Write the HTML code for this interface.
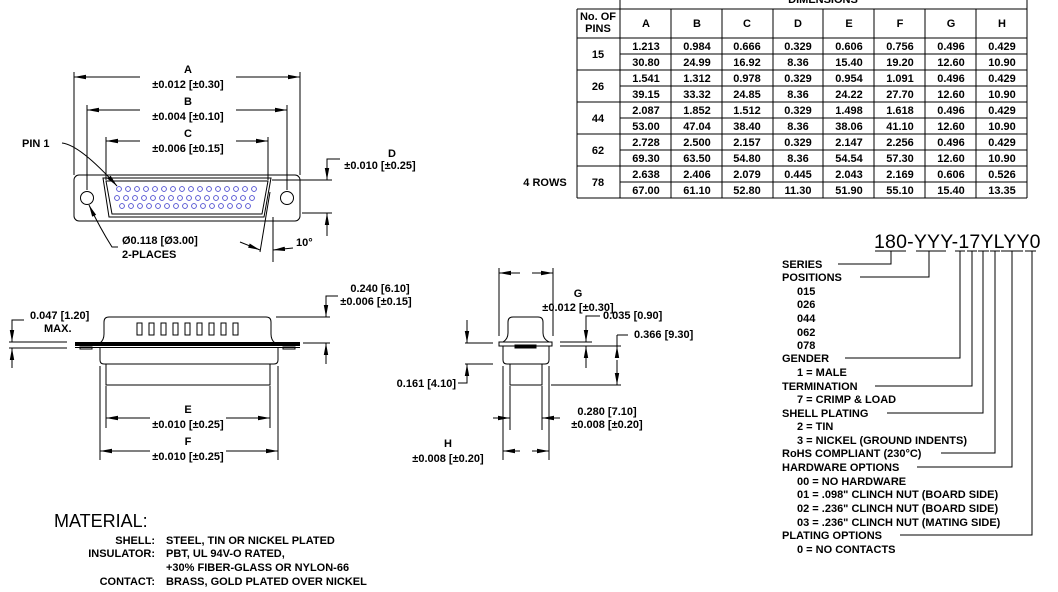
<!DOCTYPE html>
<html><head><meta charset="utf-8"><style>
html,body{margin:0;padding:0;background:#fff;}
svg{display:block;}
text{font-family:"Liberation Sans",Arial,sans-serif;font-weight:bold;font-size:11px;fill:#000;}
.c{text-anchor:middle;}
.r{text-anchor:end;}
.l{stroke:#000;stroke-width:1;fill:none;}
.pin{stroke:#4a4ad0;stroke-width:0.9;fill:none;}
</style></head><body>
<svg width="1058" height="592" viewBox="0 0 1058 592" xmlns="http://www.w3.org/2000/svg">
<defs>
<marker id="a" viewBox="0 0 12 6" refX="12" refY="3" markerWidth="12" markerHeight="6" markerUnits="userSpaceOnUse" orient="auto"><path d="M0,0.8 L12,3 L0,5.2 Z" fill="#000"/></marker>
</defs>

<!-- ===== TABLE ===== -->
<g class="l">
<line x1="620" y1="0" x2="620" y2="198"/>
<line x1="1027" y1="0" x2="1027" y2="198"/>
<line x1="577" y1="9" x2="1027" y2="9"/>
<line x1="577" y1="9" x2="577" y2="198"/>
<line x1="577" y1="38" x2="1027" y2="38"/>
<line x1="577" y1="198" x2="1027" y2="198"/>
<line x1="577" y1="70" x2="1027" y2="70"/>
<line x1="577" y1="102" x2="1027" y2="102"/>
<line x1="577" y1="134" x2="1027" y2="134"/>
<line x1="577" y1="166" x2="1027" y2="166"/>
<line x1="620" y1="54" x2="1027" y2="54"/>
<line x1="620" y1="86" x2="1027" y2="86"/>
<line x1="620" y1="118" x2="1027" y2="118"/>
<line x1="620" y1="150" x2="1027" y2="150"/>
<line x1="620" y1="182" x2="1027" y2="182"/>
<line x1="671" y1="9" x2="671" y2="198"/>
<line x1="722" y1="9" x2="722" y2="198"/>
<line x1="773" y1="9" x2="773" y2="198"/>
<line x1="823" y1="9" x2="823" y2="198"/>
<line x1="874" y1="9" x2="874" y2="198"/>
<line x1="925" y1="9" x2="925" y2="198"/>
<line x1="976" y1="9" x2="976" y2="198"/>
</g>
<text x="823" y="3" class="c">DIMENSIONS</text>
<text x="598" y="20" class="c">No. OF</text>
<text x="598" y="32" class="c">PINS</text>
<text x="646" y="27" class="c">A</text><text x="697" y="27" class="c">B</text><text x="747" y="27" class="c">C</text><text x="798" y="27" class="c">D</text><text x="849" y="27" class="c">E</text><text x="900" y="27" class="c">F</text><text x="951" y="27" class="c">G</text><text x="1002" y="27" class="c">H</text>
<text x="598" y="58" class="c">15</text>
<text x="598" y="90" class="c">26</text>
<text x="598" y="122" class="c">44</text>
<text x="598" y="154" class="c">62</text>
<text x="598" y="186" class="c">78</text>
<text x="545" y="186" class="c">4 ROWS</text>

<g>
<text x="646" y="50" class="c">1.213</text><text x="697" y="50" class="c">0.984</text><text x="747" y="50" class="c">0.666</text><text x="798" y="50" class="c">0.329</text><text x="849" y="50" class="c">0.606</text><text x="900" y="50" class="c">0.756</text><text x="951" y="50" class="c">0.496</text><text x="1002" y="50" class="c">0.429</text>
<text x="646" y="66" class="c">30.80</text><text x="697" y="66" class="c">24.99</text><text x="747" y="66" class="c">16.92</text><text x="798" y="66" class="c">8.36</text><text x="849" y="66" class="c">15.40</text><text x="900" y="66" class="c">19.20</text><text x="951" y="66" class="c">12.60</text><text x="1002" y="66" class="c">10.90</text>
<text x="646" y="82" class="c">1.541</text><text x="697" y="82" class="c">1.312</text><text x="747" y="82" class="c">0.978</text><text x="798" y="82" class="c">0.329</text><text x="849" y="82" class="c">0.954</text><text x="900" y="82" class="c">1.091</text><text x="951" y="82" class="c">0.496</text><text x="1002" y="82" class="c">0.429</text>
<text x="646" y="98" class="c">39.15</text><text x="697" y="98" class="c">33.32</text><text x="747" y="98" class="c">24.85</text><text x="798" y="98" class="c">8.36</text><text x="849" y="98" class="c">24.22</text><text x="900" y="98" class="c">27.70</text><text x="951" y="98" class="c">12.60</text><text x="1002" y="98" class="c">10.90</text>
<text x="646" y="114" class="c">2.087</text><text x="697" y="114" class="c">1.852</text><text x="747" y="114" class="c">1.512</text><text x="798" y="114" class="c">0.329</text><text x="849" y="114" class="c">1.498</text><text x="900" y="114" class="c">1.618</text><text x="951" y="114" class="c">0.496</text><text x="1002" y="114" class="c">0.429</text>
<text x="646" y="130" class="c">53.00</text><text x="697" y="130" class="c">47.04</text><text x="747" y="130" class="c">38.40</text><text x="798" y="130" class="c">8.36</text><text x="849" y="130" class="c">38.06</text><text x="900" y="130" class="c">41.10</text><text x="951" y="130" class="c">12.60</text><text x="1002" y="130" class="c">10.90</text>
<text x="646" y="146" class="c">2.728</text><text x="697" y="146" class="c">2.500</text><text x="747" y="146" class="c">2.157</text><text x="798" y="146" class="c">0.329</text><text x="849" y="146" class="c">2.147</text><text x="900" y="146" class="c">2.256</text><text x="951" y="146" class="c">0.496</text><text x="1002" y="146" class="c">0.429</text>
<text x="646" y="162" class="c">69.30</text><text x="697" y="162" class="c">63.50</text><text x="747" y="162" class="c">54.80</text><text x="798" y="162" class="c">8.36</text><text x="849" y="162" class="c">54.54</text><text x="900" y="162" class="c">57.30</text><text x="951" y="162" class="c">12.60</text><text x="1002" y="162" class="c">10.90</text>
<text x="646" y="178" class="c">2.638</text><text x="697" y="178" class="c">2.406</text><text x="747" y="178" class="c">2.079</text><text x="798" y="178" class="c">0.445</text><text x="849" y="178" class="c">2.043</text><text x="900" y="178" class="c">2.169</text><text x="951" y="178" class="c">0.606</text><text x="1002" y="178" class="c">0.526</text>
<text x="646" y="194" class="c">67.00</text><text x="697" y="194" class="c">61.10</text><text x="747" y="194" class="c">52.80</text><text x="798" y="194" class="c">11.30</text><text x="849" y="194" class="c">51.90</text><text x="900" y="194" class="c">55.10</text><text x="951" y="194" class="c">15.40</text><text x="1002" y="194" class="c">13.35</text>
</g>

<!-- ===== TOP VIEW ===== -->
<g class="l">
<rect x="74" y="175" width="226" height="46" rx="5"/>
<path d="M103,178 L271,178 L264,217 L109,217 Z"/>
<path d="M106,181 L268,181 L262,214 L112,214 Z"/>
<circle cx="87" cy="198" r="6.5"/>
<circle cx="287" cy="198" r="6.5"/>
<line x1="74" y1="72" x2="74" y2="175"/>
<line x1="300" y1="72" x2="300" y2="175"/>
<line x1="87" y1="105" x2="87" y2="190"/>
<line x1="287" y1="105" x2="287" y2="190"/>
<line x1="106" y1="137" x2="106" y2="180"/>
<line x1="268" y1="137" x2="268" y2="180"/>
<line x1="140" y1="77" x2="74" y2="77" marker-end="url(#a)"/>
<line x1="236" y1="77" x2="300" y2="77" marker-end="url(#a)"/>
<line x1="140" y1="110" x2="87" y2="110" marker-end="url(#a)"/>
<line x1="236" y1="110" x2="287" y2="110" marker-end="url(#a)"/>
<line x1="140" y1="141" x2="106" y2="141" marker-end="url(#a)"/>
<line x1="236" y1="141" x2="268" y2="141" marker-end="url(#a)"/>
<line x1="272" y1="180" x2="332" y2="180"/>
<line x1="302" y1="213" x2="332" y2="213"/>
<polyline points="340,159 327,159 327,180" marker-end="url(#a)"/>
<line x1="327" y1="236" x2="327" y2="213" marker-end="url(#a)"/>
<line x1="270" y1="192" x2="260" y2="252"/>
<line x1="273" y1="217" x2="273" y2="262"/>
<line x1="240" y1="242" x2="260" y2="250" marker-end="url(#a)"/>
<line x1="293" y1="248" x2="273" y2="250" marker-end="url(#a)"/>
<path d="M62,143 Q80,145 117,186" marker-end="url(#a)"/>
<path d="M118,247 L112,247 Q100,228 89,205" marker-end="url(#a)"/>
</g>
<g class="pin">
<circle cx="119" cy="189" r="2.4"/><circle cx="128" cy="189" r="2.4"/><circle cx="137" cy="189" r="2.4"/><circle cx="146" cy="189" r="2.4"/><circle cx="155" cy="189" r="2.4"/><circle cx="164" cy="189" r="2.4"/><circle cx="173" cy="189" r="2.4"/><circle cx="182" cy="189" r="2.4"/><circle cx="191" cy="189" r="2.4"/><circle cx="200" cy="189" r="2.4"/><circle cx="209" cy="189" r="2.4"/><circle cx="218" cy="189" r="2.4"/><circle cx="227" cy="189" r="2.4"/><circle cx="236" cy="189" r="2.4"/><circle cx="245" cy="189" r="2.4"/><circle cx="254" cy="189" r="2.4"/>
<circle cx="117" cy="198" r="2.4"/><circle cx="126" cy="198" r="2.4"/><circle cx="135" cy="198" r="2.4"/><circle cx="144" cy="198" r="2.4"/><circle cx="153" cy="198" r="2.4"/><circle cx="162" cy="198" r="2.4"/><circle cx="171" cy="198" r="2.4"/><circle cx="180" cy="198" r="2.4"/><circle cx="189" cy="198" r="2.4"/><circle cx="198" cy="198" r="2.4"/><circle cx="207" cy="198" r="2.4"/><circle cx="216" cy="198" r="2.4"/><circle cx="225" cy="198" r="2.4"/><circle cx="234" cy="198" r="2.4"/><circle cx="243" cy="198" r="2.4"/><circle cx="252" cy="198" r="2.4"/>
<circle cx="122" cy="206" r="2.4"/><circle cx="131" cy="206" r="2.4"/><circle cx="140" cy="206" r="2.4"/><circle cx="149" cy="206" r="2.4"/><circle cx="158" cy="206" r="2.4"/><circle cx="167" cy="206" r="2.4"/><circle cx="176" cy="206" r="2.4"/><circle cx="185" cy="206" r="2.4"/><circle cx="194" cy="206" r="2.4"/><circle cx="203" cy="206" r="2.4"/><circle cx="212" cy="206" r="2.4"/><circle cx="221" cy="206" r="2.4"/><circle cx="230" cy="206" r="2.4"/><circle cx="239" cy="206" r="2.4"/><circle cx="248" cy="206" r="2.4"/>
</g>
<text x="188" y="73" class="c">A</text><text x="188" y="88" class="c">±0.012 [±0.30]</text>
<text x="188" y="105" class="c">B</text><text x="188" y="120" class="c">±0.004 [±0.10]</text>
<text x="188" y="137" class="c">C</text><text x="188" y="152" class="c">±0.006 [±0.15]</text>
<text x="392" y="157" class="c">D</text><text x="380" y="169" class="c">±0.010 [±0.25]</text>
<text x="22" y="147">PIN 1</text>
<text x="122" y="244">Ø0.118 [Ø3.00]</text>
<text x="122" y="258">2-PLACES</text>
<text x="296" y="246">10°</text>

<!-- ===== SIDE VIEW ===== -->
<g class="l">
<path d="M100,343 Q104,340 104,334 L104,322 Q104,317 109,317 L266,317 Q271,317 271,322 L271,334 Q271,340 275,343"/>
<rect x="75" y="342" width="225" height="4" fill="#000" stroke="none"/>
<line x1="75" y1="347.5" x2="300" y2="347.5"/>
<rect x="80" y="347" width="12" height="2"/>
<rect x="283" y="347" width="12" height="2"/>
<path d="M100,348 L100,360 Q100,364 104,364 L274,364 Q278,364 278,360 L278,348"/>
<rect x="106" y="364" width="164" height="21"/>
<rect x="137" y="323" width="5" height="12"/><rect x="149" y="323" width="5" height="12"/><rect x="161" y="323" width="5" height="12"/><rect x="173" y="323" width="5" height="12"/><rect x="185" y="323" width="5" height="12"/><rect x="197" y="323" width="5" height="12"/><rect x="209" y="323" width="5" height="12"/><rect x="221" y="323" width="5" height="12"/><rect x="233" y="323" width="5" height="12"/>
<line x1="276" y1="317" x2="330" y2="317"/>
<line x1="303" y1="343" x2="330" y2="343"/>
<polyline points="338,296 326,296 326,317" marker-end="url(#a)"/>
<line x1="326" y1="364" x2="326" y2="343" marker-end="url(#a)"/>
<line x1="9" y1="342" x2="67" y2="342"/>
<line x1="9" y1="348" x2="67" y2="348"/>
<polyline points="24,320 12,320 12,342" marker-end="url(#a)"/>
<line x1="12" y1="368" x2="12" y2="348" marker-end="url(#a)"/>
<line x1="106" y1="386" x2="106" y2="428"/>
<line x1="270" y1="386" x2="270" y2="428"/>
<line x1="100" y1="366" x2="100" y2="460"/>
<line x1="278" y1="366" x2="278" y2="460"/>
<line x1="150" y1="418" x2="106" y2="418" marker-end="url(#a)"/>
<line x1="226" y1="418" x2="270" y2="418" marker-end="url(#a)"/>
<line x1="150" y1="451" x2="100" y2="451" marker-end="url(#a)"/>
<line x1="226" y1="451" x2="278" y2="451" marker-end="url(#a)"/>
</g>
<text x="380" y="292" class="c">0.240 [6.10]</text>
<text x="376" y="305" class="c">±0.006 [±0.15]</text>
<text x="30" y="319">0.047 [1.20]</text>
<text x="44" y="332">MAX.</text>
<text x="188" y="413" class="c">E</text><text x="188" y="428" class="c">±0.010 [±0.25]</text>
<text x="188" y="445" class="c">F</text><text x="188" y="460" class="c">±0.010 [±0.25]</text>

<!-- ===== END VIEW ===== -->
<g class="l">
<path d="M503,342 Q508,339 508,333 L508,322 Q508,317 513,317 L538,317 Q543,317 543,322 L543,333 Q543,339 549,342"/>
<rect x="499" y="342" width="53" height="4"/>
<rect x="515" y="345" width="21" height="3" fill="#000"/>
<path d="M503,346 L503,360 Q503,364 507,364 L545,364 Q549,364 549,360 L549,346"/>
<rect x="510" y="364" width="32" height="21"/>
<line x1="499" y1="268" x2="499" y2="336"/>
<line x1="553" y1="268" x2="553" y2="336"/>
<line x1="520" y1="273" x2="499" y2="273" marker-end="url(#a)"/>
<line x1="532" y1="273" x2="553" y2="273" marker-end="url(#a)"/>
<line x1="560" y1="342" x2="592" y2="342"/>
<line x1="560" y1="346" x2="621" y2="346"/>
<line x1="551" y1="385" x2="621" y2="385"/>
<polyline points="600,316 586,316 586,342" marker-end="url(#a)"/>
<line x1="586" y1="368" x2="586" y2="346" marker-end="url(#a)"/>
<line x1="617" y1="335" x2="628" y2="335"/>
<line x1="617" y1="335" x2="617" y2="346"/>
<line x1="617" y1="352" x2="617" y2="346" marker-end="url(#a)"/>
<line x1="617" y1="360" x2="617" y2="385" marker-end="url(#a)"/>
<line x1="465" y1="343" x2="493" y2="343"/>
<line x1="465" y1="364" x2="493" y2="364"/>
<line x1="467" y1="320" x2="467" y2="343" marker-end="url(#a)"/>
<polyline points="458,383 467,383 467,364" marker-end="url(#a)"/>
<line x1="503" y1="366" x2="503" y2="460"/>
<line x1="549" y1="366" x2="549" y2="460"/>
<line x1="510" y1="386" x2="510" y2="430"/>
<line x1="542" y1="386" x2="542" y2="430"/>
<line x1="493" y1="418" x2="510" y2="418" marker-end="url(#a)"/>
<line x1="560" y1="418" x2="542" y2="418" marker-end="url(#a)"/>
<line x1="520" y1="451" x2="503" y2="451" marker-end="url(#a)"/>
<line x1="532" y1="451" x2="549" y2="451" marker-end="url(#a)"/>
</g>
<text x="578" y="297" class="c">G</text><text x="578" y="311" class="c">±0.012 [±0.30]</text>
<text x="603" y="319">0.035 [0.90]</text>
<text x="634" y="338">0.366 [9.30]</text>
<text x="456" y="387" class="r">0.161 [4.10]</text>
<text x="607" y="415" class="c">0.280 [7.10]</text>
<text x="607" y="428" class="c">±0.008 [±0.20]</text>
<text x="448" y="447" class="c">H</text><text x="448" y="462" class="c">±0.008 [±0.20]</text>

<!-- ===== MATERIAL ===== -->
<text x="54" y="527" style="font-size:18px;font-weight:normal">MATERIAL:</text>
<text x="155" y="544" class="r">SHELL:</text>
<text x="166" y="544">STEEL, TIN OR NICKEL  PLATED</text>
<text x="155" y="557" class="r">INSULATOR:</text>
<text x="166" y="557">PBT, UL 94V-O RATED,</text>
<text x="166" y="571">+30% FIBER-GLASS OR NYLON-66</text>
<text x="155" y="585" class="r">CONTACT:</text>
<text x="166" y="585">BRASS, GOLD PLATED OVER NICKEL</text>

<!-- ===== PART NUMBER ===== -->
<text x="874" y="248" style="font-size:19.5px;font-weight:normal;letter-spacing:0.2px">180-YYY-17YLYY0</text>
<g class="l">
<line x1="875" y1="251" x2="906" y2="251"/>
<line x1="916" y1="251" x2="946" y2="251"/>
<line x1="955" y1="251" x2="965" y2="251"/>
<line x1="967" y1="251" x2="977" y2="251"/>
<line x1="978" y1="251" x2="989" y2="251"/>
<line x1="990" y1="251" x2="1000" y2="251"/>
<line x1="1001" y1="251" x2="1023" y2="251"/>
<line x1="1025" y1="251" x2="1036" y2="251"/>
<polyline points="838,264 891,264 891,251"/>
<polyline points="860,277 929,277 929,251"/>
<polyline points="845,358 960,358 960,251"/>
<polyline points="875,386 972,386 972,251"/>
<polyline points="887,413 983,413 983,251"/>
<polyline points="941,453 995,453 995,251"/>
<polyline points="917,467 1012,467 1012,251"/>
<polyline points="900,535 1032,535 1032,251"/>
</g>
<g>
<text x="782" y="268">SERIES</text>
<text x="782" y="281">POSITIONS</text>
<text x="797" y="295">015</text>
<text x="797" y="308">026</text>
<text x="797" y="322">044</text>
<text x="797" y="336">062</text>
<text x="797" y="349">078</text>
<text x="782" y="362">GENDER</text>
<text x="797" y="376">1 = MALE</text>
<text x="782" y="390">TERMINATION</text>
<text x="797" y="403">7 = CRIMP &amp; LOAD</text>
<text x="782" y="417">SHELL PLATING</text>
<text x="797" y="430">2 = TIN</text>
<text x="797" y="444">3 = NICKEL (GROUND INDENTS)</text>
<text x="782" y="457">RoHS COMPLIANT (230°C)</text>
<text x="782" y="471">HARDWARE OPTIONS</text>
<text x="797" y="485">00 = NO HARDWARE</text>
<text x="797" y="498">01 = .098" CLINCH NUT (BOARD SIDE)</text>
<text x="797" y="512">02 = .236" CLINCH NUT (BOARD SIDE)</text>
<text x="797" y="526">03 = .236" CLINCH NUT (MATING SIDE)</text>
<text x="782" y="539">PLATING OPTIONS</text>
<text x="797" y="553">0 = NO CONTACTS</text>
</g>
</svg>
</body></html>
